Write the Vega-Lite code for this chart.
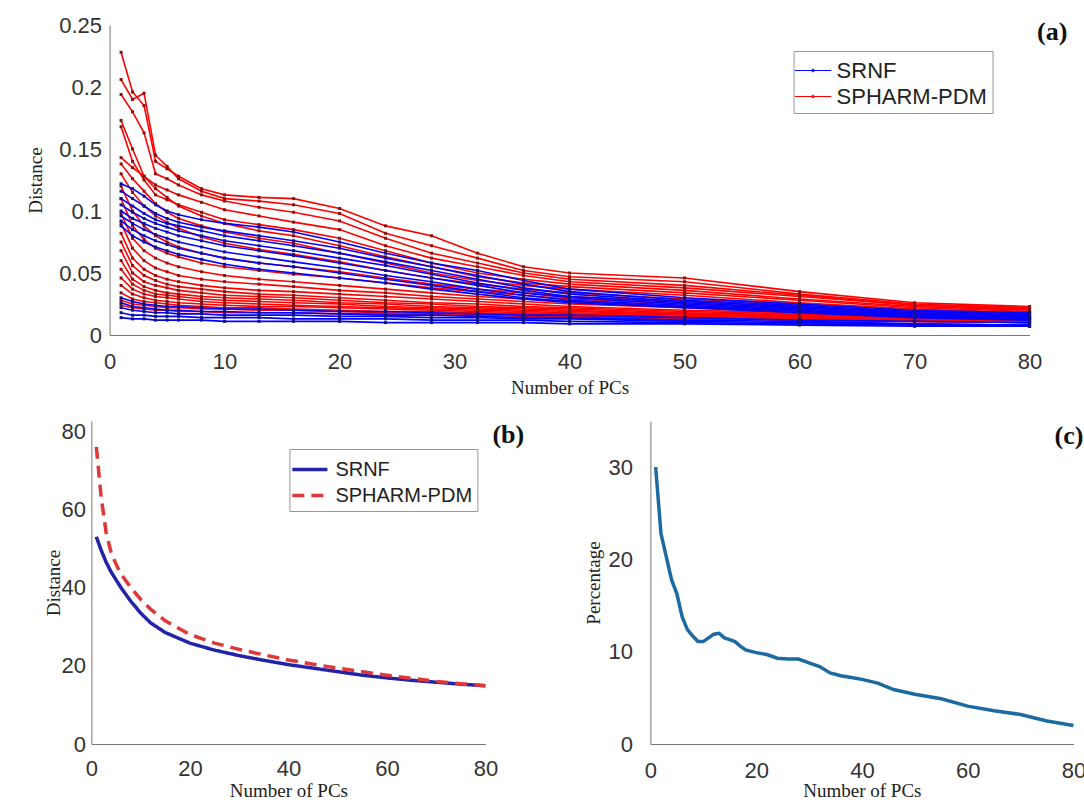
{
"$schema": "https://vega.github.io/schema/vega-lite/v6.json",
"background": "white",
"padding": {"left": 26, "top": 14, "right": 0, "bottom": 0},
"spacing": 23,
"center": true,
"config": {
  "view": {"stroke": null},
  "axis": {"grid": false, "domainColor": "#777777", "ticks": false, "labelPadding": 8, "labelFont": "Liberation Sans", "labelFontSize": 22, "labelColor": "#333333", "labelFlush": false, "titleFont": "Liberation Serif", "titleFontWeight": "normal", "titleFontSize": 19, "titleColor": "#222222"},
  "title": {"font": "Liberation Serif", "fontWeight": "bold", "fontSize": 26, "color": "#111111"},
  "legend": {"labelFont": "Liberation Sans", "labelFontSize": 21, "labelColor": "#222222"}
},
"resolve": {"scale": {"x": "independent", "y": "independent", "color": "independent", "strokeDash": "independent"}},
"datasets": {
"a": [
{"m":"P","i":1,"x":1,"y":0.228},{"m":"P","i":1,"x":2,"y":0.196},{"m":"P","i":1,"x":3,"y":0.185},{"m":"P","i":1,"x":4,"y":0.140},{"m":"P","i":1,"x":5,"y":0.134},{"m":"P","i":1,"x":6,"y":0.128},{"m":"P","i":1,"x":8,"y":0.118},{"m":"P","i":1,"x":10,"y":0.113},{"m":"P","i":1,"x":13,"y":0.111},{"m":"P","i":1,"x":16,"y":0.110},{"m":"P","i":1,"x":20,"y":0.102},{"m":"P","i":1,"x":24,"y":0.088},{"m":"P","i":1,"x":28,"y":0.080},{"m":"P","i":1,"x":32,"y":0.066},{"m":"P","i":1,"x":36,"y":0.055},{"m":"P","i":1,"x":40,"y":0.050},{"m":"P","i":1,"x":50,"y":0.046},{"m":"P","i":1,"x":60,"y":0.035},{"m":"P","i":1,"x":70,"y":0.026},{"m":"P","i":1,"x":80,"y":0.023},
{"m":"P","i":2,"x":1,"y":0.206},{"m":"P","i":2,"x":2,"y":0.190},{"m":"P","i":2,"x":3,"y":0.195},{"m":"P","i":2,"x":4,"y":0.145},{"m":"P","i":2,"x":5,"y":0.136},{"m":"P","i":2,"x":6,"y":0.126},{"m":"P","i":2,"x":8,"y":0.116},{"m":"P","i":2,"x":10,"y":0.110},{"m":"P","i":2,"x":13,"y":0.108},{"m":"P","i":2,"x":16,"y":0.105},{"m":"P","i":2,"x":20,"y":0.098},{"m":"P","i":2,"x":24,"y":0.082},{"m":"P","i":2,"x":28,"y":0.072},{"m":"P","i":2,"x":32,"y":0.062},{"m":"P","i":2,"x":36,"y":0.052},{"m":"P","i":2,"x":40,"y":0.047},{"m":"P","i":2,"x":50,"y":0.043},{"m":"P","i":2,"x":60,"y":0.033},{"m":"P","i":2,"x":70,"y":0.025},{"m":"P","i":2,"x":80,"y":0.022},
{"m":"P","i":3,"x":1,"y":0.194},{"m":"P","i":3,"x":2,"y":0.180},{"m":"P","i":3,"x":3,"y":0.163},{"m":"P","i":3,"x":4,"y":0.130},{"m":"P","i":3,"x":5,"y":0.126},{"m":"P","i":3,"x":6,"y":0.121},{"m":"P","i":3,"x":8,"y":0.113},{"m":"P","i":3,"x":10,"y":0.108},{"m":"P","i":3,"x":13,"y":0.103},{"m":"P","i":3,"x":16,"y":0.099},{"m":"P","i":3,"x":20,"y":0.092},{"m":"P","i":3,"x":24,"y":0.078},{"m":"P","i":3,"x":28,"y":0.066},{"m":"P","i":3,"x":32,"y":0.058},{"m":"P","i":3,"x":36,"y":0.050},{"m":"P","i":3,"x":40,"y":0.045},{"m":"P","i":3,"x":50,"y":0.040},{"m":"P","i":3,"x":60,"y":0.032},{"m":"P","i":3,"x":70,"y":0.024},{"m":"P","i":3,"x":80,"y":0.021},
{"m":"P","i":4,"x":1,"y":0.173},{"m":"P","i":4,"x":2,"y":0.150},{"m":"P","i":4,"x":3,"y":0.128},{"m":"P","i":4,"x":4,"y":0.121},{"m":"P","i":4,"x":5,"y":0.117},{"m":"P","i":4,"x":6,"y":0.113},{"m":"P","i":4,"x":8,"y":0.107},{"m":"P","i":4,"x":10,"y":0.101},{"m":"P","i":4,"x":13,"y":0.096},{"m":"P","i":4,"x":16,"y":0.091},{"m":"P","i":4,"x":20,"y":0.085},{"m":"P","i":4,"x":24,"y":0.072},{"m":"P","i":4,"x":28,"y":0.062},{"m":"P","i":4,"x":32,"y":0.055},{"m":"P","i":4,"x":36,"y":0.048},{"m":"P","i":4,"x":40,"y":0.043},{"m":"P","i":4,"x":50,"y":0.038},{"m":"P","i":4,"x":60,"y":0.031},{"m":"P","i":4,"x":70,"y":0.024},{"m":"P","i":4,"x":80,"y":0.021},
{"m":"P","i":5,"x":1,"y":0.168},{"m":"P","i":5,"x":2,"y":0.140},{"m":"P","i":5,"x":3,"y":0.125},{"m":"P","i":5,"x":4,"y":0.113},{"m":"P","i":5,"x":5,"y":0.109},{"m":"P","i":5,"x":6,"y":0.105},{"m":"P","i":5,"x":8,"y":0.099},{"m":"P","i":5,"x":10,"y":0.093},{"m":"P","i":5,"x":13,"y":0.089},{"m":"P","i":5,"x":16,"y":0.085},{"m":"P","i":5,"x":20,"y":0.078},{"m":"P","i":5,"x":24,"y":0.068},{"m":"P","i":5,"x":28,"y":0.058},{"m":"P","i":5,"x":32,"y":0.050},{"m":"P","i":5,"x":36,"y":0.045},{"m":"P","i":5,"x":40,"y":0.041},{"m":"P","i":5,"x":50,"y":0.036},{"m":"P","i":5,"x":60,"y":0.029},{"m":"P","i":5,"x":70,"y":0.023},{"m":"P","i":5,"x":80,"y":0.020},
{"m":"P","i":6,"x":1,"y":0.143},{"m":"P","i":6,"x":2,"y":0.135},{"m":"P","i":6,"x":3,"y":0.128},{"m":"P","i":6,"x":4,"y":0.118},{"m":"P","i":6,"x":5,"y":0.111},{"m":"P","i":6,"x":6,"y":0.104},{"m":"P","i":6,"x":8,"y":0.096},{"m":"P","i":6,"x":10,"y":0.090},{"m":"P","i":6,"x":13,"y":0.084},{"m":"P","i":6,"x":16,"y":0.080},{"m":"P","i":6,"x":20,"y":0.072},{"m":"P","i":6,"x":24,"y":0.063},{"m":"P","i":6,"x":28,"y":0.055},{"m":"P","i":6,"x":32,"y":0.047},{"m":"P","i":6,"x":36,"y":0.042},{"m":"P","i":6,"x":40,"y":0.039},{"m":"P","i":6,"x":50,"y":0.034},{"m":"P","i":6,"x":60,"y":0.028},{"m":"P","i":6,"x":70,"y":0.022},{"m":"P","i":6,"x":80,"y":0.019},
{"m":"P","i":7,"x":1,"y":0.138},{"m":"P","i":7,"x":2,"y":0.126},{"m":"P","i":7,"x":3,"y":0.116},{"m":"P","i":7,"x":4,"y":0.106},{"m":"P","i":7,"x":5,"y":0.099},{"m":"P","i":7,"x":6,"y":0.094},{"m":"P","i":7,"x":8,"y":0.088},{"m":"P","i":7,"x":10,"y":0.083},{"m":"P","i":7,"x":13,"y":0.078},{"m":"P","i":7,"x":16,"y":0.074},{"m":"P","i":7,"x":20,"y":0.066},{"m":"P","i":7,"x":24,"y":0.058},{"m":"P","i":7,"x":28,"y":0.050},{"m":"P","i":7,"x":32,"y":0.044},{"m":"P","i":7,"x":36,"y":0.040},{"m":"P","i":7,"x":40,"y":0.037},{"m":"P","i":7,"x":50,"y":0.032},{"m":"P","i":7,"x":60,"y":0.026},{"m":"P","i":7,"x":70,"y":0.021},{"m":"P","i":7,"x":80,"y":0.018},
{"m":"P","i":8,"x":1,"y":0.130},{"m":"P","i":8,"x":2,"y":0.115},{"m":"P","i":8,"x":3,"y":0.104},{"m":"P","i":8,"x":4,"y":0.096},{"m":"P","i":8,"x":5,"y":0.091},{"m":"P","i":8,"x":6,"y":0.086},{"m":"P","i":8,"x":8,"y":0.079},{"m":"P","i":8,"x":10,"y":0.074},{"m":"P","i":8,"x":13,"y":0.069},{"m":"P","i":8,"x":16,"y":0.065},{"m":"P","i":8,"x":20,"y":0.059},{"m":"P","i":8,"x":24,"y":0.052},{"m":"P","i":8,"x":28,"y":0.046},{"m":"P","i":8,"x":32,"y":0.041},{"m":"P","i":8,"x":36,"y":0.037},{"m":"P","i":8,"x":40,"y":0.034},{"m":"P","i":8,"x":50,"y":0.029},{"m":"P","i":8,"x":60,"y":0.025},{"m":"P","i":8,"x":70,"y":0.020},{"m":"P","i":8,"x":80,"y":0.018},
{"m":"P","i":9,"x":1,"y":0.120},{"m":"P","i":9,"x":2,"y":0.100},{"m":"P","i":9,"x":3,"y":0.088},{"m":"P","i":9,"x":4,"y":0.080},{"m":"P","i":9,"x":5,"y":0.075},{"m":"P","i":9,"x":6,"y":0.071},{"m":"P","i":9,"x":8,"y":0.066},{"m":"P","i":9,"x":10,"y":0.062},{"m":"P","i":9,"x":13,"y":0.058},{"m":"P","i":9,"x":16,"y":0.055},{"m":"P","i":9,"x":20,"y":0.051},{"m":"P","i":9,"x":24,"y":0.046},{"m":"P","i":9,"x":28,"y":0.041},{"m":"P","i":9,"x":32,"y":0.037},{"m":"P","i":9,"x":36,"y":0.034},{"m":"P","i":9,"x":40,"y":0.031},{"m":"P","i":9,"x":50,"y":0.027},{"m":"P","i":9,"x":60,"y":0.023},{"m":"P","i":9,"x":70,"y":0.019},{"m":"P","i":9,"x":80,"y":0.017},
{"m":"P","i":10,"x":1,"y":0.110},{"m":"P","i":10,"x":2,"y":0.088},{"m":"P","i":10,"x":3,"y":0.077},{"m":"P","i":10,"x":4,"y":0.070},{"m":"P","i":10,"x":5,"y":0.066},{"m":"P","i":10,"x":6,"y":0.063},{"m":"P","i":10,"x":8,"y":0.058},{"m":"P","i":10,"x":10,"y":0.055},{"m":"P","i":10,"x":13,"y":0.052},{"m":"P","i":10,"x":16,"y":0.049},{"m":"P","i":10,"x":20,"y":0.046},{"m":"P","i":10,"x":24,"y":0.042},{"m":"P","i":10,"x":28,"y":0.038},{"m":"P","i":10,"x":32,"y":0.035},{"m":"P","i":10,"x":36,"y":0.032},{"m":"P","i":10,"x":40,"y":0.029},{"m":"P","i":10,"x":50,"y":0.025},{"m":"P","i":10,"x":60,"y":0.022},{"m":"P","i":10,"x":70,"y":0.018},{"m":"P","i":10,"x":80,"y":0.016},
{"m":"P","i":11,"x":1,"y":0.098},{"m":"P","i":11,"x":2,"y":0.078},{"m":"P","i":11,"x":3,"y":0.068},{"m":"P","i":11,"x":4,"y":0.062},{"m":"P","i":11,"x":5,"y":0.058},{"m":"P","i":11,"x":6,"y":0.055},{"m":"P","i":11,"x":8,"y":0.051},{"m":"P","i":11,"x":10,"y":0.048},{"m":"P","i":11,"x":13,"y":0.045},{"m":"P","i":11,"x":16,"y":0.043},{"m":"P","i":11,"x":20,"y":0.040},{"m":"P","i":11,"x":24,"y":0.037},{"m":"P","i":11,"x":28,"y":0.034},{"m":"P","i":11,"x":32,"y":0.031},{"m":"P","i":11,"x":36,"y":0.029},{"m":"P","i":11,"x":40,"y":0.027},{"m":"P","i":11,"x":50,"y":0.023},{"m":"P","i":11,"x":60,"y":0.020},{"m":"P","i":11,"x":70,"y":0.017},{"m":"P","i":11,"x":80,"y":0.015},
{"m":"P","i":12,"x":1,"y":0.090},{"m":"P","i":12,"x":2,"y":0.070},{"m":"P","i":12,"x":3,"y":0.060},{"m":"P","i":12,"x":4,"y":0.054},{"m":"P","i":12,"x":5,"y":0.051},{"m":"P","i":12,"x":6,"y":0.048},{"m":"P","i":12,"x":8,"y":0.045},{"m":"P","i":12,"x":10,"y":0.043},{"m":"P","i":12,"x":13,"y":0.041},{"m":"P","i":12,"x":16,"y":0.039},{"m":"P","i":12,"x":20,"y":0.036},{"m":"P","i":12,"x":24,"y":0.034},{"m":"P","i":12,"x":28,"y":0.031},{"m":"P","i":12,"x":32,"y":0.029},{"m":"P","i":12,"x":36,"y":0.027},{"m":"P","i":12,"x":40,"y":0.025},{"m":"P","i":12,"x":50,"y":0.022},{"m":"P","i":12,"x":60,"y":0.019},{"m":"P","i":12,"x":70,"y":0.016},{"m":"P","i":12,"x":80,"y":0.014},
{"m":"P","i":13,"x":1,"y":0.082},{"m":"P","i":13,"x":2,"y":0.062},{"m":"P","i":13,"x":3,"y":0.053},{"m":"P","i":13,"x":4,"y":0.048},{"m":"P","i":13,"x":5,"y":0.045},{"m":"P","i":13,"x":6,"y":0.043},{"m":"P","i":13,"x":8,"y":0.040},{"m":"P","i":13,"x":10,"y":0.038},{"m":"P","i":13,"x":13,"y":0.036},{"m":"P","i":13,"x":16,"y":0.035},{"m":"P","i":13,"x":20,"y":0.033},{"m":"P","i":13,"x":24,"y":0.031},{"m":"P","i":13,"x":28,"y":0.029},{"m":"P","i":13,"x":32,"y":0.027},{"m":"P","i":13,"x":36,"y":0.025},{"m":"P","i":13,"x":40,"y":0.023},{"m":"P","i":13,"x":50,"y":0.020},{"m":"P","i":13,"x":60,"y":0.018},{"m":"P","i":13,"x":70,"y":0.016},{"m":"P","i":13,"x":80,"y":0.014},
{"m":"P","i":14,"x":1,"y":0.075},{"m":"P","i":14,"x":2,"y":0.056},{"m":"P","i":14,"x":3,"y":0.048},{"m":"P","i":14,"x":4,"y":0.044},{"m":"P","i":14,"x":5,"y":0.041},{"m":"P","i":14,"x":6,"y":0.039},{"m":"P","i":14,"x":8,"y":0.037},{"m":"P","i":14,"x":10,"y":0.035},{"m":"P","i":14,"x":13,"y":0.033},{"m":"P","i":14,"x":16,"y":0.032},{"m":"P","i":14,"x":20,"y":0.030},{"m":"P","i":14,"x":24,"y":0.028},{"m":"P","i":14,"x":28,"y":0.026},{"m":"P","i":14,"x":32,"y":0.025},{"m":"P","i":14,"x":36,"y":0.023},{"m":"P","i":14,"x":40,"y":0.022},{"m":"P","i":14,"x":50,"y":0.019},{"m":"P","i":14,"x":60,"y":0.017},{"m":"P","i":14,"x":70,"y":0.015},{"m":"P","i":14,"x":80,"y":0.013},
{"m":"P","i":15,"x":1,"y":0.068},{"m":"P","i":15,"x":2,"y":0.050},{"m":"P","i":15,"x":3,"y":0.043},{"m":"P","i":15,"x":4,"y":0.040},{"m":"P","i":15,"x":5,"y":0.038},{"m":"P","i":15,"x":6,"y":0.036},{"m":"P","i":15,"x":8,"y":0.034},{"m":"P","i":15,"x":10,"y":0.032},{"m":"P","i":15,"x":13,"y":0.031},{"m":"P","i":15,"x":16,"y":0.030},{"m":"P","i":15,"x":20,"y":0.028},{"m":"P","i":15,"x":24,"y":0.026},{"m":"P","i":15,"x":28,"y":0.025},{"m":"P","i":15,"x":32,"y":0.023},{"m":"P","i":15,"x":36,"y":0.022},{"m":"P","i":15,"x":40,"y":0.021},{"m":"P","i":15,"x":50,"y":0.018},{"m":"P","i":15,"x":60,"y":0.016},{"m":"P","i":15,"x":70,"y":0.014},{"m":"P","i":15,"x":80,"y":0.013},
{"m":"P","i":16,"x":1,"y":0.060},{"m":"P","i":16,"x":2,"y":0.045},{"m":"P","i":16,"x":3,"y":0.039},{"m":"P","i":16,"x":4,"y":0.036},{"m":"P","i":16,"x":5,"y":0.034},{"m":"P","i":16,"x":6,"y":0.033},{"m":"P","i":16,"x":8,"y":0.031},{"m":"P","i":16,"x":10,"y":0.030},{"m":"P","i":16,"x":13,"y":0.029},{"m":"P","i":16,"x":16,"y":0.028},{"m":"P","i":16,"x":20,"y":0.026},{"m":"P","i":16,"x":24,"y":0.025},{"m":"P","i":16,"x":28,"y":0.023},{"m":"P","i":16,"x":32,"y":0.022},{"m":"P","i":16,"x":36,"y":0.021},{"m":"P","i":16,"x":40,"y":0.020},{"m":"P","i":16,"x":50,"y":0.017},{"m":"P","i":16,"x":60,"y":0.016},{"m":"P","i":16,"x":70,"y":0.014},{"m":"P","i":16,"x":80,"y":0.012},
{"m":"P","i":17,"x":1,"y":0.053},{"m":"P","i":17,"x":2,"y":0.041},{"m":"P","i":17,"x":3,"y":0.036},{"m":"P","i":17,"x":4,"y":0.033},{"m":"P","i":17,"x":5,"y":0.032},{"m":"P","i":17,"x":6,"y":0.031},{"m":"P","i":17,"x":8,"y":0.029},{"m":"P","i":17,"x":10,"y":0.028},{"m":"P","i":17,"x":13,"y":0.027},{"m":"P","i":17,"x":16,"y":0.026},{"m":"P","i":17,"x":20,"y":0.025},{"m":"P","i":17,"x":24,"y":0.023},{"m":"P","i":17,"x":28,"y":0.022},{"m":"P","i":17,"x":32,"y":0.021},{"m":"P","i":17,"x":36,"y":0.020},{"m":"P","i":17,"x":40,"y":0.019},{"m":"P","i":17,"x":50,"y":0.017},{"m":"P","i":17,"x":60,"y":0.015},{"m":"P","i":17,"x":70,"y":0.013},{"m":"P","i":17,"x":80,"y":0.012},
{"m":"P","i":18,"x":1,"y":0.046},{"m":"P","i":18,"x":2,"y":0.037},{"m":"P","i":18,"x":3,"y":0.033},{"m":"P","i":18,"x":4,"y":0.031},{"m":"P","i":18,"x":5,"y":0.030},{"m":"P","i":18,"x":6,"y":0.029},{"m":"P","i":18,"x":8,"y":0.027},{"m":"P","i":18,"x":10,"y":0.026},{"m":"P","i":18,"x":13,"y":0.025},{"m":"P","i":18,"x":16,"y":0.024},{"m":"P","i":18,"x":20,"y":0.023},{"m":"P","i":18,"x":24,"y":0.022},{"m":"P","i":18,"x":28,"y":0.021},{"m":"P","i":18,"x":32,"y":0.020},{"m":"P","i":18,"x":36,"y":0.019},{"m":"P","i":18,"x":40,"y":0.018},{"m":"P","i":18,"x":50,"y":0.016},{"m":"P","i":18,"x":60,"y":0.014},{"m":"P","i":18,"x":70,"y":0.013},{"m":"P","i":18,"x":80,"y":0.011},
{"m":"P","i":19,"x":1,"y":0.040},{"m":"P","i":19,"x":2,"y":0.033},{"m":"P","i":19,"x":3,"y":0.030},{"m":"P","i":19,"x":4,"y":0.028},{"m":"P","i":19,"x":5,"y":0.027},{"m":"P","i":19,"x":6,"y":0.026},{"m":"P","i":19,"x":8,"y":0.025},{"m":"P","i":19,"x":10,"y":0.024},{"m":"P","i":19,"x":13,"y":0.023},{"m":"P","i":19,"x":16,"y":0.023},{"m":"P","i":19,"x":20,"y":0.022},{"m":"P","i":19,"x":24,"y":0.021},{"m":"P","i":19,"x":28,"y":0.020},{"m":"P","i":19,"x":32,"y":0.019},{"m":"P","i":19,"x":36,"y":0.018},{"m":"P","i":19,"x":40,"y":0.017},{"m":"P","i":19,"x":50,"y":0.015},{"m":"P","i":19,"x":60,"y":0.014},{"m":"P","i":19,"x":70,"y":0.012},{"m":"P","i":19,"x":80,"y":0.011},
{"m":"P","i":20,"x":1,"y":0.034},{"m":"P","i":20,"x":2,"y":0.029},{"m":"P","i":20,"x":3,"y":0.027},{"m":"P","i":20,"x":4,"y":0.026},{"m":"P","i":20,"x":5,"y":0.025},{"m":"P","i":20,"x":6,"y":0.024},{"m":"P","i":20,"x":8,"y":0.023},{"m":"P","i":20,"x":10,"y":0.022},{"m":"P","i":20,"x":13,"y":0.022},{"m":"P","i":20,"x":16,"y":0.021},{"m":"P","i":20,"x":20,"y":0.020},{"m":"P","i":20,"x":24,"y":0.019},{"m":"P","i":20,"x":28,"y":0.019},{"m":"P","i":20,"x":32,"y":0.018},{"m":"P","i":20,"x":36,"y":0.017},{"m":"P","i":20,"x":40,"y":0.016},{"m":"P","i":20,"x":50,"y":0.014},{"m":"P","i":20,"x":60,"y":0.013},{"m":"P","i":20,"x":70,"y":0.012},{"m":"P","i":20,"x":80,"y":0.010},
{"m":"P","i":21,"x":1,"y":0.028},{"m":"P","i":21,"x":2,"y":0.025},{"m":"P","i":21,"x":3,"y":0.024},{"m":"P","i":21,"x":4,"y":0.023},{"m":"P","i":21,"x":5,"y":0.022},{"m":"P","i":21,"x":6,"y":0.022},{"m":"P","i":21,"x":8,"y":0.021},{"m":"P","i":21,"x":10,"y":0.021},{"m":"P","i":21,"x":13,"y":0.020},{"m":"P","i":21,"x":16,"y":0.020},{"m":"P","i":21,"x":20,"y":0.019},{"m":"P","i":21,"x":24,"y":0.018},{"m":"P","i":21,"x":28,"y":0.017},{"m":"P","i":21,"x":32,"y":0.017},{"m":"P","i":21,"x":36,"y":0.016},{"m":"P","i":21,"x":40,"y":0.015},{"m":"P","i":21,"x":50,"y":0.014},{"m":"P","i":21,"x":60,"y":0.012},{"m":"P","i":21,"x":70,"y":0.011},{"m":"P","i":21,"x":80,"y":0.010},
{"m":"P","i":22,"x":1,"y":0.024},{"m":"P","i":22,"x":2,"y":0.022},{"m":"P","i":22,"x":3,"y":0.021},{"m":"P","i":22,"x":4,"y":0.020},{"m":"P","i":22,"x":5,"y":0.020},{"m":"P","i":22,"x":6,"y":0.019},{"m":"P","i":22,"x":8,"y":0.019},{"m":"P","i":22,"x":10,"y":0.018},{"m":"P","i":22,"x":13,"y":0.018},{"m":"P","i":22,"x":16,"y":0.018},{"m":"P","i":22,"x":20,"y":0.017},{"m":"P","i":22,"x":24,"y":0.017},{"m":"P","i":22,"x":28,"y":0.016},{"m":"P","i":22,"x":32,"y":0.016},{"m":"P","i":22,"x":36,"y":0.015},{"m":"P","i":22,"x":40,"y":0.014},{"m":"P","i":22,"x":50,"y":0.013},{"m":"P","i":22,"x":60,"y":0.012},{"m":"P","i":22,"x":70,"y":0.011},{"m":"P","i":22,"x":80,"y":0.010},
{"m":"S","i":1,"x":1,"y":0.122},{"m":"S","i":1,"x":2,"y":0.118},{"m":"S","i":1,"x":3,"y":0.112},{"m":"S","i":1,"x":4,"y":0.105},{"m":"S","i":1,"x":5,"y":0.100},{"m":"S","i":1,"x":6,"y":0.097},{"m":"S","i":1,"x":8,"y":0.093},{"m":"S","i":1,"x":10,"y":0.090},{"m":"S","i":1,"x":13,"y":0.087},{"m":"S","i":1,"x":16,"y":0.083},{"m":"S","i":1,"x":20,"y":0.075},{"m":"S","i":1,"x":24,"y":0.066},{"m":"S","i":1,"x":28,"y":0.058},{"m":"S","i":1,"x":32,"y":0.052},{"m":"S","i":1,"x":36,"y":0.044},{"m":"S","i":1,"x":40,"y":0.037},{"m":"S","i":1,"x":50,"y":0.030},{"m":"S","i":1,"x":60,"y":0.025},{"m":"S","i":1,"x":70,"y":0.020},{"m":"S","i":1,"x":80,"y":0.018},
{"m":"S","i":2,"x":1,"y":0.116},{"m":"S","i":2,"x":2,"y":0.110},{"m":"S","i":2,"x":3,"y":0.104},{"m":"S","i":2,"x":4,"y":0.098},{"m":"S","i":2,"x":5,"y":0.094},{"m":"S","i":2,"x":6,"y":0.091},{"m":"S","i":2,"x":8,"y":0.087},{"m":"S","i":2,"x":10,"y":0.084},{"m":"S","i":2,"x":13,"y":0.080},{"m":"S","i":2,"x":16,"y":0.076},{"m":"S","i":2,"x":20,"y":0.070},{"m":"S","i":2,"x":24,"y":0.062},{"m":"S","i":2,"x":28,"y":0.055},{"m":"S","i":2,"x":32,"y":0.048},{"m":"S","i":2,"x":36,"y":0.041},{"m":"S","i":2,"x":40,"y":0.035},{"m":"S","i":2,"x":50,"y":0.028},{"m":"S","i":2,"x":60,"y":0.024},{"m":"S","i":2,"x":70,"y":0.019},{"m":"S","i":2,"x":80,"y":0.017},
{"m":"S","i":3,"x":1,"y":0.110},{"m":"S","i":3,"x":2,"y":0.104},{"m":"S","i":3,"x":3,"y":0.098},{"m":"S","i":3,"x":4,"y":0.093},{"m":"S","i":3,"x":5,"y":0.090},{"m":"S","i":3,"x":6,"y":0.088},{"m":"S","i":3,"x":8,"y":0.084},{"m":"S","i":3,"x":10,"y":0.080},{"m":"S","i":3,"x":13,"y":0.076},{"m":"S","i":3,"x":16,"y":0.072},{"m":"S","i":3,"x":20,"y":0.066},{"m":"S","i":3,"x":24,"y":0.059},{"m":"S","i":3,"x":28,"y":0.052},{"m":"S","i":3,"x":32,"y":0.045},{"m":"S","i":3,"x":36,"y":0.038},{"m":"S","i":3,"x":40,"y":0.033},{"m":"S","i":3,"x":50,"y":0.027},{"m":"S","i":3,"x":60,"y":0.023},{"m":"S","i":3,"x":70,"y":0.018},{"m":"S","i":3,"x":80,"y":0.016},
{"m":"S","i":4,"x":1,"y":0.105},{"m":"S","i":4,"x":2,"y":0.099},{"m":"S","i":4,"x":3,"y":0.094},{"m":"S","i":4,"x":4,"y":0.090},{"m":"S","i":4,"x":5,"y":0.087},{"m":"S","i":4,"x":6,"y":0.084},{"m":"S","i":4,"x":8,"y":0.080},{"m":"S","i":4,"x":10,"y":0.076},{"m":"S","i":4,"x":13,"y":0.072},{"m":"S","i":4,"x":16,"y":0.068},{"m":"S","i":4,"x":20,"y":0.062},{"m":"S","i":4,"x":24,"y":0.056},{"m":"S","i":4,"x":28,"y":0.049},{"m":"S","i":4,"x":32,"y":0.042},{"m":"S","i":4,"x":36,"y":0.036},{"m":"S","i":4,"x":40,"y":0.031},{"m":"S","i":4,"x":50,"y":0.026},{"m":"S","i":4,"x":60,"y":0.022},{"m":"S","i":4,"x":70,"y":0.017},{"m":"S","i":4,"x":80,"y":0.015},
{"m":"S","i":5,"x":1,"y":0.100},{"m":"S","i":5,"x":2,"y":0.094},{"m":"S","i":5,"x":3,"y":0.090},{"m":"S","i":5,"x":4,"y":0.086},{"m":"S","i":5,"x":5,"y":0.083},{"m":"S","i":5,"x":6,"y":0.080},{"m":"S","i":5,"x":8,"y":0.076},{"m":"S","i":5,"x":10,"y":0.072},{"m":"S","i":5,"x":13,"y":0.068},{"m":"S","i":5,"x":16,"y":0.064},{"m":"S","i":5,"x":20,"y":0.058},{"m":"S","i":5,"x":24,"y":0.052},{"m":"S","i":5,"x":28,"y":0.046},{"m":"S","i":5,"x":32,"y":0.040},{"m":"S","i":5,"x":36,"y":0.034},{"m":"S","i":5,"x":40,"y":0.030},{"m":"S","i":5,"x":50,"y":0.025},{"m":"S","i":5,"x":60,"y":0.021},{"m":"S","i":5,"x":70,"y":0.016},{"m":"S","i":5,"x":80,"y":0.014},
{"m":"S","i":6,"x":1,"y":0.096},{"m":"S","i":6,"x":2,"y":0.090},{"m":"S","i":6,"x":3,"y":0.085},{"m":"S","i":6,"x":4,"y":0.081},{"m":"S","i":6,"x":5,"y":0.078},{"m":"S","i":6,"x":6,"y":0.075},{"m":"S","i":6,"x":8,"y":0.071},{"m":"S","i":6,"x":10,"y":0.067},{"m":"S","i":6,"x":13,"y":0.063},{"m":"S","i":6,"x":16,"y":0.059},{"m":"S","i":6,"x":20,"y":0.054},{"m":"S","i":6,"x":24,"y":0.048},{"m":"S","i":6,"x":28,"y":0.043},{"m":"S","i":6,"x":32,"y":0.037},{"m":"S","i":6,"x":36,"y":0.032},{"m":"S","i":6,"x":40,"y":0.028},{"m":"S","i":6,"x":50,"y":0.024},{"m":"S","i":6,"x":60,"y":0.020},{"m":"S","i":6,"x":70,"y":0.015},{"m":"S","i":6,"x":80,"y":0.013},
{"m":"S","i":7,"x":1,"y":0.092},{"m":"S","i":7,"x":2,"y":0.085},{"m":"S","i":7,"x":3,"y":0.080},{"m":"S","i":7,"x":4,"y":0.076},{"m":"S","i":7,"x":5,"y":0.073},{"m":"S","i":7,"x":6,"y":0.070},{"m":"S","i":7,"x":8,"y":0.066},{"m":"S","i":7,"x":10,"y":0.062},{"m":"S","i":7,"x":13,"y":0.058},{"m":"S","i":7,"x":16,"y":0.055},{"m":"S","i":7,"x":20,"y":0.050},{"m":"S","i":7,"x":24,"y":0.045},{"m":"S","i":7,"x":28,"y":0.040},{"m":"S","i":7,"x":32,"y":0.035},{"m":"S","i":7,"x":36,"y":0.030},{"m":"S","i":7,"x":40,"y":0.027},{"m":"S","i":7,"x":50,"y":0.023},{"m":"S","i":7,"x":60,"y":0.019},{"m":"S","i":7,"x":70,"y":0.015},{"m":"S","i":7,"x":80,"y":0.013},
{"m":"S","i":8,"x":1,"y":0.088},{"m":"S","i":8,"x":2,"y":0.080},{"m":"S","i":8,"x":3,"y":0.075},{"m":"S","i":8,"x":4,"y":0.071},{"m":"S","i":8,"x":5,"y":0.068},{"m":"S","i":8,"x":6,"y":0.065},{"m":"S","i":8,"x":8,"y":0.061},{"m":"S","i":8,"x":10,"y":0.057},{"m":"S","i":8,"x":13,"y":0.053},{"m":"S","i":8,"x":16,"y":0.050},{"m":"S","i":8,"x":20,"y":0.046},{"m":"S","i":8,"x":24,"y":0.042},{"m":"S","i":8,"x":28,"y":0.037},{"m":"S","i":8,"x":32,"y":0.033},{"m":"S","i":8,"x":36,"y":0.029},{"m":"S","i":8,"x":40,"y":0.026},{"m":"S","i":8,"x":50,"y":0.022},{"m":"S","i":8,"x":60,"y":0.018},{"m":"S","i":8,"x":70,"y":0.014},{"m":"S","i":8,"x":80,"y":0.012},
{"m":"S","i":9,"x":1,"y":0.030},{"m":"S","i":9,"x":2,"y":0.027},{"m":"S","i":9,"x":3,"y":0.025},{"m":"S","i":9,"x":4,"y":0.024},{"m":"S","i":9,"x":5,"y":0.023},{"m":"S","i":9,"x":6,"y":0.023},{"m":"S","i":9,"x":8,"y":0.022},{"m":"S","i":9,"x":10,"y":0.021},{"m":"S","i":9,"x":13,"y":0.021},{"m":"S","i":9,"x":16,"y":0.020},{"m":"S","i":9,"x":20,"y":0.019},{"m":"S","i":9,"x":24,"y":0.019},{"m":"S","i":9,"x":28,"y":0.018},{"m":"S","i":9,"x":32,"y":0.017},{"m":"S","i":9,"x":36,"y":0.016},{"m":"S","i":9,"x":40,"y":0.016},{"m":"S","i":9,"x":50,"y":0.014},{"m":"S","i":9,"x":60,"y":0.012},{"m":"S","i":9,"x":70,"y":0.011},{"m":"S","i":9,"x":80,"y":0.010},
{"m":"S","i":10,"x":1,"y":0.026},{"m":"S","i":10,"x":2,"y":0.023},{"m":"S","i":10,"x":3,"y":0.022},{"m":"S","i":10,"x":4,"y":0.021},{"m":"S","i":10,"x":5,"y":0.020},{"m":"S","i":10,"x":6,"y":0.020},{"m":"S","i":10,"x":8,"y":0.019},{"m":"S","i":10,"x":10,"y":0.019},{"m":"S","i":10,"x":13,"y":0.018},{"m":"S","i":10,"x":16,"y":0.018},{"m":"S","i":10,"x":20,"y":0.017},{"m":"S","i":10,"x":24,"y":0.016},{"m":"S","i":10,"x":28,"y":0.016},{"m":"S","i":10,"x":32,"y":0.015},{"m":"S","i":10,"x":36,"y":0.014},{"m":"S","i":10,"x":40,"y":0.014},{"m":"S","i":10,"x":50,"y":0.012},{"m":"S","i":10,"x":60,"y":0.011},{"m":"S","i":10,"x":70,"y":0.009},{"m":"S","i":10,"x":80,"y":0.008},
{"m":"S","i":11,"x":1,"y":0.022},{"m":"S","i":11,"x":2,"y":0.020},{"m":"S","i":11,"x":3,"y":0.019},{"m":"S","i":11,"x":4,"y":0.018},{"m":"S","i":11,"x":5,"y":0.018},{"m":"S","i":11,"x":6,"y":0.017},{"m":"S","i":11,"x":8,"y":0.017},{"m":"S","i":11,"x":10,"y":0.016},{"m":"S","i":11,"x":13,"y":0.016},{"m":"S","i":11,"x":16,"y":0.016},{"m":"S","i":11,"x":20,"y":0.015},{"m":"S","i":11,"x":24,"y":0.015},{"m":"S","i":11,"x":28,"y":0.014},{"m":"S","i":11,"x":32,"y":0.014},{"m":"S","i":11,"x":36,"y":0.013},{"m":"S","i":11,"x":40,"y":0.013},{"m":"S","i":11,"x":50,"y":0.011},{"m":"S","i":11,"x":60,"y":0.010},{"m":"S","i":11,"x":70,"y":0.009},{"m":"S","i":11,"x":80,"y":0.008},
{"m":"S","i":12,"x":1,"y":0.018},{"m":"S","i":12,"x":2,"y":0.016},{"m":"S","i":12,"x":3,"y":0.016},{"m":"S","i":12,"x":4,"y":0.015},{"m":"S","i":12,"x":5,"y":0.015},{"m":"S","i":12,"x":6,"y":0.015},{"m":"S","i":12,"x":8,"y":0.014},{"m":"S","i":12,"x":10,"y":0.014},{"m":"S","i":12,"x":13,"y":0.014},{"m":"S","i":12,"x":16,"y":0.013},{"m":"S","i":12,"x":20,"y":0.013},{"m":"S","i":12,"x":24,"y":0.013},{"m":"S","i":12,"x":28,"y":0.012},{"m":"S","i":12,"x":32,"y":0.012},{"m":"S","i":12,"x":36,"y":0.012},{"m":"S","i":12,"x":40,"y":0.011},{"m":"S","i":12,"x":50,"y":0.010},{"m":"S","i":12,"x":60,"y":0.009},{"m":"S","i":12,"x":70,"y":0.008},{"m":"S","i":12,"x":80,"y":0.007},
{"m":"S","i":13,"x":1,"y":0.014},{"m":"S","i":13,"x":2,"y":0.013},{"m":"S","i":13,"x":3,"y":0.013},{"m":"S","i":13,"x":4,"y":0.012},{"m":"S","i":13,"x":5,"y":0.012},{"m":"S","i":13,"x":6,"y":0.012},{"m":"S","i":13,"x":8,"y":0.012},{"m":"S","i":13,"x":10,"y":0.011},{"m":"S","i":13,"x":13,"y":0.011},{"m":"S","i":13,"x":16,"y":0.011},{"m":"S","i":13,"x":20,"y":0.011},{"m":"S","i":13,"x":24,"y":0.010},{"m":"S","i":13,"x":28,"y":0.010},{"m":"S","i":13,"x":32,"y":0.010},{"m":"S","i":13,"x":36,"y":0.010},{"m":"S","i":13,"x":40,"y":0.009},{"m":"S","i":13,"x":50,"y":0.009},{"m":"S","i":13,"x":60,"y":0.008},{"m":"S","i":13,"x":70,"y":0.007},{"m":"S","i":13,"x":80,"y":0.007}
],
"b": [
{"m":"SRNF","x":1,"y":53},{"m":"SRNF","x":2,"y":49.5},{"m":"SRNF","x":3,"y":46.5},{"m":"SRNF","x":4,"y":44},{"m":"SRNF","x":5,"y":42},{"m":"SRNF","x":6,"y":40},{"m":"SRNF","x":8,"y":36.5},{"m":"SRNF","x":10,"y":33.5},{"m":"SRNF","x":12,"y":31},{"m":"SRNF","x":15,"y":28.5},{"m":"SRNF","x":20,"y":25.8},{"m":"SRNF","x":25,"y":24},{"m":"SRNF","x":30,"y":22.6},{"m":"SRNF","x":35,"y":21.4},{"m":"SRNF","x":40,"y":20.3},{"m":"SRNF","x":45,"y":19.4},{"m":"SRNF","x":50,"y":18.5},{"m":"SRNF","x":55,"y":17.6},{"m":"SRNF","x":60,"y":16.9},{"m":"SRNF","x":65,"y":16.3},{"m":"SRNF","x":70,"y":15.8},{"m":"SRNF","x":75,"y":15.3},{"m":"SRNF","x":80,"y":14.9},
{"m":"SPHARM-PDM","x":1,"y":76},{"m":"SPHARM-PDM","x":2,"y":63},{"m":"SPHARM-PDM","x":3,"y":54},{"m":"SPHARM-PDM","x":4,"y":49},{"m":"SPHARM-PDM","x":5,"y":46},{"m":"SPHARM-PDM","x":6,"y":43.5},{"m":"SPHARM-PDM","x":8,"y":40},{"m":"SPHARM-PDM","x":10,"y":37},{"m":"SPHARM-PDM","x":12,"y":34.5},{"m":"SPHARM-PDM","x":15,"y":31.5},{"m":"SPHARM-PDM","x":20,"y":28},{"m":"SPHARM-PDM","x":25,"y":25.8},{"m":"SPHARM-PDM","x":30,"y":24.2},{"m":"SPHARM-PDM","x":35,"y":22.8},{"m":"SPHARM-PDM","x":40,"y":21.5},{"m":"SPHARM-PDM","x":45,"y":20.4},{"m":"SPHARM-PDM","x":50,"y":19.4},{"m":"SPHARM-PDM","x":55,"y":18.5},{"m":"SPHARM-PDM","x":60,"y":17.6},{"m":"SPHARM-PDM","x":65,"y":16.8},{"m":"SPHARM-PDM","x":70,"y":16},{"m":"SPHARM-PDM","x":75,"y":15.4},{"m":"SPHARM-PDM","x":80,"y":14.9}
],
"c": [
{"x":1,"y":30},{"x":2,"y":22.8},{"x":3,"y":20.3},{"x":4,"y":17.8},{"x":5,"y":16.3},{"x":6,"y":13.8},{"x":7,"y":12.4},{"x":8,"y":11.7},{"x":9,"y":11.1},{"x":10,"y":11.1},{"x":11,"y":11.5},{"x":12,"y":11.9},{"x":13,"y":12.0},{"x":14,"y":11.5},{"x":15,"y":11.3},{"x":16,"y":11.1},{"x":17,"y":10.6},{"x":18,"y":10.2},{"x":20,"y":9.9},{"x":22,"y":9.7},{"x":24,"y":9.3},{"x":26,"y":9.2},{"x":28,"y":9.2},{"x":30,"y":8.8},{"x":32,"y":8.4},{"x":34,"y":7.7},{"x":36,"y":7.4},{"x":38,"y":7.2},{"x":40,"y":7.0},{"x":43,"y":6.6},{"x":46,"y":5.9},{"x":50,"y":5.4},{"x":55,"y":4.9},{"x":60,"y":4.1},{"x":65,"y":3.6},{"x":70,"y":3.2},{"x":75,"y":2.5},{"x":80,"y":2.0}
]
},
"vconcat": [
{
  "width": 920, "height": 310,
  "title": {"text": "(a)", "orient": "right", "anchor": "start", "angle": 0, "baseline": "top", "align": "left", "offset": -35, "dy": 5},
  "data": {"name": "a"},
  "encoding": {
    "x": {"field": "x", "type": "quantitative", "scale": {"domain": [0, 80], "nice": false}, "axis": {"values": [0,10,20,30,40,50,60,70,80], "title": "Number of PCs", "labelPadding": 16, "titlePadding": 6}},
    "y": {"field": "y", "type": "quantitative", "scale": {"domain": [0, 0.25], "nice": false}, "axis": {"values": [0,0.05,0.1,0.15,0.2,0.25], "format": ".2~f", "title": "Distance", "labelPadding": 8, "titlePadding": 13}}
  },
  "layer": [
    {"transform": [{"filter": "datum.m == 'P'"}], "mark": {"type": "line", "strokeWidth": 1.6},
     "encoding": {"detail": {"field": "i", "type": "nominal"},
       "color": {"field": "m", "type": "nominal", "scale": {"domain": ["S", "P"], "range": ["#0000ff", "#ff0000"]},
         "legend": {"title": null, "orient": "none", "legendX": 684, "legendY": 26, "symbolType": "M-1.3,0H1.3M-0.1,0A0.1,0.1,0,1,1,0.1,0A0.1,0.1,0,1,1,-0.1,0", "symbolSize": 784, "symbolStrokeWidth": 1, "labelOffset": 9, "strokeColor": "#999999", "fillColor": "white", "padding": 5, "rowPadding": 0, "labelFontSize": 22, "labelExpr": "datum.label == 'S' ? 'SRNF' : 'SPHARM-PDM'"}}}},
    {"transform": [{"filter": "datum.m == 'P'"}], "mark": {"type": "square", "size": 9, "color": "#8a1010", "opacity": 1}},
    {"transform": [{"filter": "datum.m == 'S'"}], "mark": {"type": "line", "strokeWidth": 1.6},
     "encoding": {"detail": {"field": "i", "type": "nominal"},
       "color": {"field": "m", "type": "nominal", "scale": {"domain": ["S", "P"], "range": ["#0000ff", "#ff0000"]}}}},
    {"transform": [{"filter": "datum.m == 'S'"}], "mark": {"type": "square", "size": 9, "color": "#10108a", "opacity": 1}}
  ]
},
{
  "spacing": 60,
  "resolve": {"scale": {"x": "independent", "y": "independent", "color": "independent", "strokeDash": "independent"}},
  "hconcat": [
    {
      "width": 394, "height": 323,
      "title": {"text": "(b)", "orient": "right", "anchor": "start", "angle": 0, "baseline": "top", "align": "left", "offset": -37, "dy": 2},
      "data": {"name": "b"},
      "mark": {"type": "line", "strokeWidth": 3.5},
      "encoding": {
        "x": {"field": "x", "type": "quantitative", "scale": {"domain": [0, 80], "nice": false}, "axis": {"values": [0,20,40,60,80], "title": "Number of PCs", "labelPadding": 14, "titlePadding": 2}},
        "y": {"field": "y", "type": "quantitative", "scale": {"domain": [0, 82.6], "nice": false}, "axis": {"values": [0,20,40,60,80], "title": "Distance", "labelPadding": 6, "titlePadding": -3}},
        "color": {"field": "m", "type": "nominal", "scale": {"domain": ["SRNF", "SPHARM-PDM"], "range": ["#2323a8", "#e03838"]},
          "legend": {"title": null, "orient": "none", "legendX": 198, "legendY": 28, "symbolType": "M-1.3,0H1.3", "symbolSize": 729, "symbolStrokeWidth": 3.5, "labelOffset": 10, "strokeColor": "#999999", "fillColor": "white", "padding": 5, "rowPadding": 0, "labelFontSize": 20}},
        "strokeDash": {"field": "m", "type": "nominal", "scale": {"domain": ["SRNF", "SPHARM-PDM"], "range": [[1, 0], [12, 7]]},
          "legend": {"title": null, "orient": "none", "legendX": 198, "legendY": 28, "symbolType": "M-1.3,0H1.3", "symbolSize": 729, "symbolStrokeWidth": 3.5, "labelOffset": 10, "strokeColor": "#999999", "fillColor": "white", "padding": 5, "rowPadding": 0, "labelFontSize": 20}}
      }
    },
    {
      "width": 423, "height": 323,
      "title": {"text": "(c)      ", "orient": "right", "anchor": "start", "angle": 0, "baseline": "top", "align": "left", "offset": -60, "dy": 2},
      "data": {"name": "c"},
      "mark": {"type": "line", "strokeWidth": 3.5, "color": "#1d6aa2"},
      "encoding": {
        "x": {"field": "x", "type": "quantitative", "scale": {"domain": [0, 80], "nice": false}, "axis": {"values": [0,20,40,60,80], "title": "Number of PCs", "labelPadding": 16, "titlePadding": 0}},
        "y": {"field": "y", "type": "quantitative", "scale": {"domain": [0, 35], "nice": false}, "axis": {"values": [0,10,20,30], "title": "Percentage", "labelPadding": 18, "titlePadding": 4}}
      }
    }
  ]
}
]
}
